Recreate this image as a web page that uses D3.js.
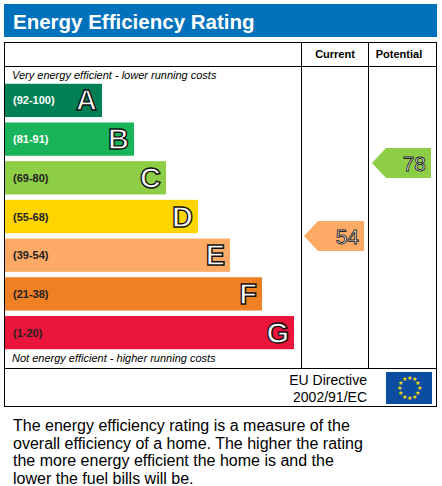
<!DOCTYPE html>
<html><head><meta charset="utf-8">
<script src="https://cdn.jsdelivr.net/npm/d3@7"></script>
<style>body{margin:0;background:#fff}</style>
</head><body><svg id="c" width="442" height="486"></svg>
<script>
const bands = ["A", "B", "C", "D", "E", "F", "G"]
const ranges = ["(92-100)", "(81-91)", "(69-80)", "(55-68)", "(39-54)", "(21-38)", "(1-20)"]
const mins = [92, 81, 69, 55, 39, 21, 1]
const colors = ["#008054", "#19b459", "#8dce46", "#ffd500", "#fcaa65", "#ef8023", "#e9153b"]
const currentValue = 54
const potentialValue = 78
const footer = ["The energy efficiency rating is a measure of the", "overall efficiency of a home. The higher the rating", "the more energy efficient the home is and the", "lower the fuel bills will be."]

const svg = d3.select("#c")
const font = "Arial, 'Liberation Sans', sans-serif"

// title bar
svg.append("rect").attr("x", 4).attr("y", 4).attr("width", 433).attr("height", 33).attr("fill", "#0072bc")
svg.append("text").attr("x", 13).attr("y", 29).attr("fill", "white").attr("font-family", font)
  .attr("font-weight", "bold").attr("font-size", 20.5).text("Energy Efficiency Rating")

// table frame
const line = (x1, y1, x2, y2) => svg.append("line").attr("x1", x1).attr("y1", y1).attr("x2", x2).attr("y2", y2)
  .attr("stroke", "black").attr("stroke-width", 1)
svg.append("rect").attr("x", 4.5).attr("y", 42.5).attr("width", 432).attr("height", 364)
  .attr("fill", "none").attr("stroke", "black")
line(4, 66.5, 437, 66.5)
line(301.5, 42, 301.5, 368)
line(368.5, 42, 368.5, 368)
line(4, 368.5, 437, 368.5)
svg.append("text").attr("x", 335).attr("y", 58).attr("text-anchor", "middle").attr("font-family", font)
  .attr("font-weight", "bold").attr("font-size", 11).text("Current")
svg.append("text").attr("x", 399).attr("y", 58).attr("text-anchor", "middle").attr("font-family", font)
  .attr("font-weight", "bold").attr("font-size", 11).text("Potential")

svg.append("text").attr("x", 12).attr("y", 79).attr("font-family", font).attr("font-style", "italic")
  .attr("font-size", 11).text("Very energy efficient - lower running costs")
svg.append("text").attr("x", 12).attr("y", 362).attr("font-family", font).attr("font-style", "italic")
  .attr("font-size", 11).text("Not energy efficient - higher running costs")

const y = d3.scaleBand().domain(bands).range([83, 350]).paddingInner(0.14).paddingOuter(0.02)
const w = d3.scaleLinear().domain([0, 6]).range([97, 289])
// arrow centre by rating value
const yv = d3.scaleLinear().domain([78, 54]).range([163, 236])

const rows = svg.selectAll(".band").data(bands).join("g").attr("class", "band")
rows.append("rect").attr("x", 5).attr("y", d => y(d)).attr("width", (d, i) => w(i))
  .attr("height", y.bandwidth()).attr("fill", (d, i) => colors[i])
rows.append("text").attr("x", 13).attr("y", d => y(d) + y.bandwidth() / 2 + 4)
  .attr("font-family", font).attr("font-weight", "bold").attr("font-size", 11)
  .attr("fill", (d, i) => i < 2 ? "white" : "#222").text((d, i) => ranges[i])
rows.append("text").attr("x", (d, i) => 5 + w(i) - 5).attr("y", d => y(d) + y.bandwidth() / 2 + 10)
  .attr("text-anchor", "end").attr("font-family", font).attr("font-weight", "bold").attr("font-size", 29)
  .attr("fill", "white").attr("stroke", "#111").attr("stroke-width", 1.4).text(d => d)

const bandOf = v => mins.findIndex(m => v >= m)
function arrow(v, x0, x1) {
  const i = bandOf(v)
  const h = 30, t = yv(v) - h / 2
  svg.append("path").attr("d", `M${x0},${t + h / 2}L${x0 + 14},${t}H${x1}V${t + h}H${x0 + 14}Z`)
    .attr("fill", colors[i])
  svg.append("text").attr("x", x1 - 5).attr("y", t + h / 2 + 8).attr("text-anchor", "end")
    .attr("font-family", font).attr("font-size", 21).attr("fill", "white")
    .attr("stroke", "#222").attr("stroke-width", 0.9).text(v)
}
arrow(currentValue, 304, 364)
arrow(potentialValue, 372, 431)

// EU
svg.append("text").attr("x", 367).attr("y", 385).attr("text-anchor", "end").attr("font-family", font)
  .attr("font-size", 14).text("EU Directive")
svg.append("text").attr("x", 367).attr("y", 402).attr("text-anchor", "end").attr("font-family", font)
  .attr("font-size", 14).text("2002/91/EC")
svg.append("rect").attr("x", 386).attr("y", 372).attr("width", 46).attr("height", 32).attr("fill", "#0c4da2")
d3.range(12).forEach(k => {
  const a = k / 12 * 2 * Math.PI
  svg.append("text").attr("x", 409 + 10 * Math.sin(a)).attr("y", 388 - 10 * Math.cos(a) + 2)
    .attr("text-anchor", "middle").attr("font-size", 6).attr("fill", "#ffdd00").text("★")
})

svg.selectAll(".foot").data(footer).join("text").attr("class", "foot")
  .attr("x", 13).attr("y", (d, i) => 431 + i * 17.5).attr("font-family", font).attr("font-size", 16)
  .text(d => d)
</script></body></html>
